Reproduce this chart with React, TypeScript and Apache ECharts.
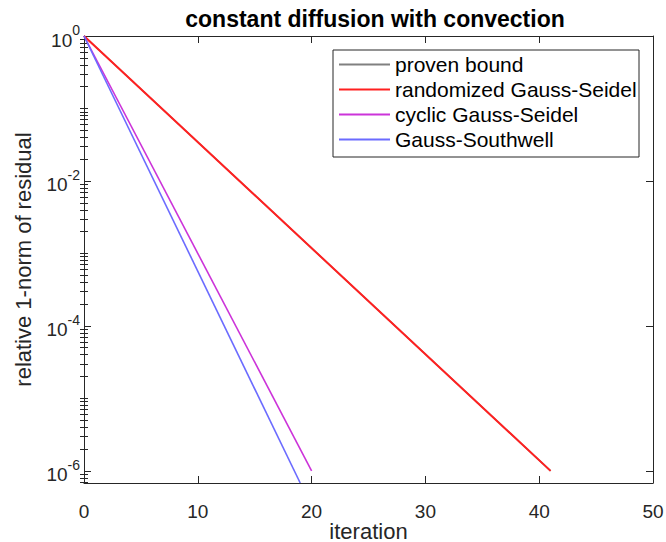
import React, { useEffect, useRef } from 'react';
import * as echarts from 'echarts';

const titleText = 'constant diffusion with convection';
const xAxisName = 'iteration';
const yAxisName = 'relative 1-norm of residual';
const seriesNames = ['proven bound', 'randomized Gauss-Seidel', 'cyclic Gauss-Seidel', 'Gauss-Southwell'];
const seriesColors = ['#808080', '#ff2020', '#cc33d9', '#6b6bff'];

// [iteration, relative residual]
const provenBound: [number, number][] = [[0, 1], [41, 1e-6]];
const randomizedGS: [number, number][] = [[0, 1], [41, 1e-6]];
const cyclicGS: [number, number][] = [[0, 1], [20, 1e-6]];
const gaussSouthwell: [number, number][] = [[0, 1], [19, 6.8e-7]];

const xMin = 0;
const xMax = 50;
const xInterval = 10;
const yMin = 6.8e-7;
const yMax = 1;
const yLabelValues = [1, 1e-2, 1e-4, 1e-6];
const yLabelExponents = ['0', '-2', '-4', '-6'];

function minorTickValues(): number[] {
  const out: number[] = [];
  for (let e = 0; e >= -7; e--) {
    for (let m = 1; m <= 9; m++) {
      const v = m * Math.pow(10, e);
      if (v < yMin || v > yMax) continue;
      if (yLabelValues.some((l) => Math.abs(l - v) / l < 1e-9)) continue;
      out.push(v);
    }
  }
  return out;
}

const AX = '#262626';
const FONT = 'Liberation Sans, Arial, sans-serif';

export default function App() {
  const ref = useRef<HTMLDivElement>(null);
  useEffect(() => {
    if (!ref.current) return;
    const chart = echarts.init(ref.current, undefined, { renderer: 'svg' });
    const minors = minorTickValues();
    const datasets = [provenBound, randomizedGS, cyclicGS, gaussSouthwell];
    const widths = [1.5, 2, 1.6, 1.6];

    const baseX = {
      type: 'value' as const,
      min: xMin,
      max: xMax,
      interval: xInterval,
      axisLine: { show: true, onZero: false, lineStyle: { color: AX, width: 1 } },
      axisTick: { show: true, inside: true, length: 7, lineStyle: { color: AX, width: 1 } },
      splitLine: { show: false },
    };
    const logBase = {
      type: 'log' as const,
      logBase: 10,
      min: yMin,
      max: yMax,
      splitLine: { show: false },
    };

    chart.setOption({
      animation: false,
      backgroundColor: '#ffffff',
      textStyle: { fontFamily: FONT },
      title: {
        text: titleText,
        left: 370,
        textAlign: 'center',
        top: 2,
        textStyle: { fontSize: 23, fontWeight: 'bold', color: '#000', fontFamily: FONT },
      },
      grid: { left: 84, right: 13, top: 36, bottom: 59, outerBoundsMode: 'none' },
      xAxis: [
        {
          ...baseX,
          position: 'bottom',
          axisLabel: { show: true, fontSize: 19, color: AX, margin: 19, fontFamily: FONT },
          name: xAxisName,
          nameLocation: 'middle',
          nameGap: 37,
          nameMoveOverlap: false,
          nameTextStyle: { fontSize: 22, color: AX, fontFamily: FONT },
        },
        {
          ...baseX,
          position: 'top',
          axisLabel: { show: false },
        },
      ],
      yAxis: [
        {
          ...logBase,
          position: 'left',
          axisLine: { show: true, onZero: false, lineStyle: { color: AX, width: 1 } },
          axisTick: { show: true, inside: true, length: 7, customValues: yLabelValues, lineStyle: { color: AX, width: 1 } },
          axisLabel: {
            show: true,
            customValues: yLabelValues,
            margin: 4,
            formatter: (v: number) => {
              const idx = yLabelValues.findIndex((l) => Math.abs(l - v) / l < 1e-6);
              const ex = idx >= 0 ? yLabelExponents[idx] : '';
              return `{b|10}{s|${ex}}`;
            },
            rich: {
              b: { fontSize: 19, color: AX, padding: [8, 0, 0, 0], fontFamily: FONT },
              s: { fontSize: 14, color: AX, padding: [0, 0, 12, 0], fontFamily: FONT },
            },
          },
          name: yAxisName,
          nameLocation: 'middle',
          nameGap: 50,
          nameRotate: 90,
          nameMoveOverlap: false,
          nameTextStyle: { fontSize: 22, color: AX, fontFamily: FONT },
        },
        {
          ...logBase,
          position: 'left',
          axisLine: { show: false },
          axisTick: { show: true, inside: true, length: 4, customValues: minors, lineStyle: { color: AX, width: 1 } },
          axisLabel: { show: false },
        },
        {
          ...logBase,
          position: 'right',
          axisLine: { show: true, onZero: false, lineStyle: { color: AX, width: 1 } },
          axisTick: { show: true, inside: true, length: 7, customValues: yLabelValues, lineStyle: { color: AX, width: 1 } },
          axisLabel: { show: false },
        },
        {
          ...logBase,
          position: 'right',
          axisLine: { show: false },
          axisTick: { show: true, inside: true, length: 4, customValues: minors, lineStyle: { color: AX, width: 1 } },
          axisLabel: { show: false },
        },
      ],
      legend: {
        data: seriesNames,
        orient: 'vertical',
        left: 339,
        top: 54,
        icon: 'rect',
        itemWidth: 51,
        itemHeight: 2,
        itemGap: 4,
        padding: 0,
        z: 6,
        textStyle: { fontSize: 21, lineHeight: 20, color: '#000', padding: [0, 0, 0, 0], fontFamily: FONT },
      },
      graphic: [
        {
          type: 'rect',
          z: 5,
          shape: { x: 333, y: 50, width: 306, height: 107 },
          style: { fill: '#ffffff', stroke: AX, lineWidth: 1 },
        },
      ],
      series: datasets.map((d, i) => ({
        name: seriesNames[i],
        type: 'line',
        xAxisIndex: 0,
        yAxisIndex: 0,
        data: d,
        symbol: 'none',
        showSymbol: false,
        clip: true,
        color: seriesColors[i],
        lineStyle: { color: seriesColors[i], width: widths[i] },
        z: 2 + i,
      })),
    });
    return () => chart.dispose();
  }, []);
  return <div ref={ref} style={{ position: 'absolute', left: 0, top: 0, width: 666, height: 542 }} />;
}
